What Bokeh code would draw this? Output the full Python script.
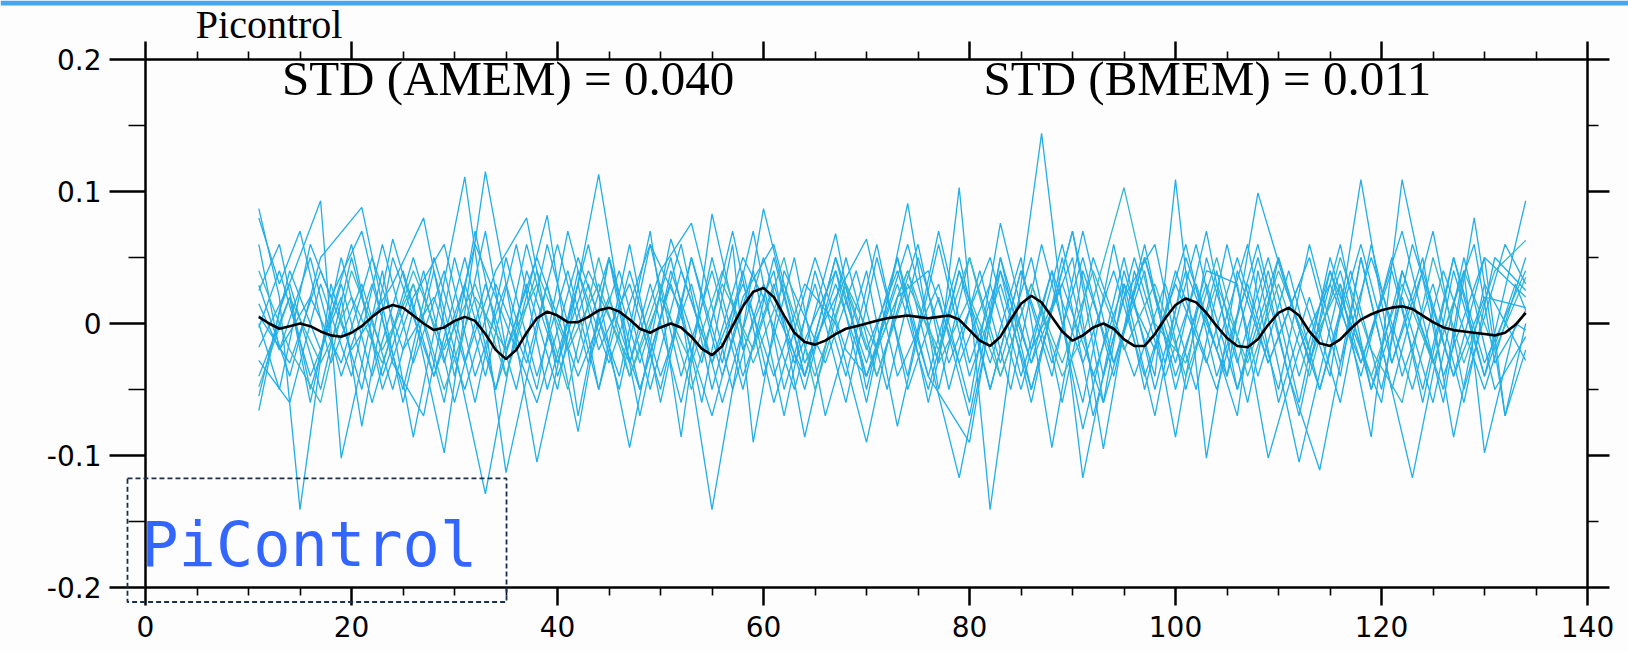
from bokeh.plotting import figure
from bokeh.models import Range1d, LinearAxis, FixedTicker, Label, PolyAnnotation, BoxAnnotation
from bokeh.embed import file_html
from bokeh.resources import INLINE

# ---------------- data ----------------
title_text = "Picontrol"
std_amem_text = "STD (AMEM) = 0.040"
std_bmem_text = "STD (BMEM) = 0.011"
box_text = "PiControl"

x_ticks = [0, 20, 40, 60, 80, 100, 120, 140]
x_minor = [5, 10, 15, 25, 30, 35, 45, 50, 55, 65, 70, 75, 85, 90, 95,
           105, 110, 115, 125, 130, 135]
y_ticks = [-0.2, -0.1, 0, 0.1, 0.2]
y_tick_labels = ["-0.2", "-0.1", "0", "0.1", "0.2"]
y_minor = [-0.15, -0.05, 0.05, 0.15]

years = list(range(11, 135))

# ensemble mean (black line), one value per year 11..134
bmem = [
    .005, .000, -.004, -.002, .000, -.002, -.006, -.009, -.010, -.007,
    -.002, .005, .011, .014, .012, .006, .000, -.005, -.003, .002,
    .005, .002, -.008, -.020, -.027, -.020, -.007, .004, .009, .006,
    .001, .001, .005, .010, .012, .009, .003, -.004, -.007, -.003,
    .000, -.003, -.010, -.019, -.024, -.017, -.002, .013, .024, .027,
    .020, .006, -.007, -.014, -.016, -.013, -.008, -.004, -.002, .000,
    .002, .004, .005, .006, .005, .004, .005, .006, .003, -.005,
    -.013, -.017, -.010, .003, .015, .021, .016, .005, -.006, -.013,
    -.009, -.003, .000, -.004, -.012, -.017, -.017, -.008, .004, .014,
    .019, .016, .008, -.002, -.011, -.017, -.018, -.012, -.001, .008,
    .012, .006, -.006, -.015, -.017, -.012, -.004, .003, .007, .010,
    .012, .013, .011, .006, .001, -.003, -.005, -.006, -.007, -.008,
    -.009, -.007, -.001, .008,
]

# ensemble members (cyan lines): (year, value) vertices
member01 = [(11, .087), (13, .02), (15, -.141), (18, .03), (21, -.05), (24, .064), (26, .01), (29, -.098),
            (33, .115), (35, .03), (38, -.105), (42, .04), (45, -.03), (49, .06), (52, .01), (55, -.141),
            (60, .087), (64, -.04), (67, .03), (70, -.04), (74, .04), (79, -.117), (83, .04), (86, -.03),
            (90, .05), (93, -.095), (96, .04), (99, -.04), (102, .03), (106, -.07), (108, .04), (112, -.105),
            (116, .03), (119, -.086), (122, .109), (126, -.04), (130, .05), (134, .02)]
member02 = [(11, -.066), (13, .01), (17, .093), (19, -.102), (23, .04), (26, -.086), (31, .111), (35, -.113),
            (39, .03), (42, -.082), (45, .05), (48, -.05), (52, .06), (55, -.05), (58, .04), (61, -.06),
            (65, .05), (68, -.02), (70, -.04), (74, .06), (77, -.03), (79, .103), (82, -.141), (87, .144),
            (91, -.117), (95, .04), (98, -.04), (100, .109), (103, -.102), (106, .04), (109, -.03), (113, .05),
            (116, -.04), (118, .05), (123, -.117), (127, .04), (130, -.04), (134, .093)]
member03 = [(11, .029), (14, -.04), (17, .05), (21, .088), (25, -.06), (28, .04), (30, -.02), (33, -.129),
            (37, .04), (40, -.03), (43, .06), (47, -.094), (51, .064), (55, -.03), (58, .05), (60, .02),
            (63, -.05), (67, .068), (70, -.05), (73, .05), (76, -.04), (80, -.09), (83, .05), (86, -.05),
            (90, .07), (93, -.06), (97, .05), (100, -.03), (103, .07), (106, -.05), (109, .04), (112, -.06),
            (115, .05), (118, -.03), (122, .07), (126, -.06), (129, .08), (132, -.07), (134, -.02)]
member04 = [(11, .025), (13, .06), (16, -.05), (19, .03), (22, -.06), (26, .05), (29, -.03), (32, .06),
            (35, .0), (38, -.06), (42, .05), (46, -.04), (49, .07), (52, -.086), (55, .083), (58, -.02),
            (61, .04), (64, -.086), (68, .05), (71, -.04), (75, .06), (78, -.05), (81, .04), (84, -.05),
            (87, .06), (91, -.06), (94, .06), (97, -.05), (100, .04), (104, -.05), (108, .06), (111, -.04),
            (114, -.111), (118, .05), (121, -.05), (125, .07), (128, -.05), (132, .06), (134, .03)]
member05 = [(11, .006), (14, -.03), (17, .04), (20, -.02), (24, .03), (27, .08), (30, -.04), (33, .07),
            (35, -.02), (38, .05), (42, -.04), (45, .02), (48, -.05), (51, .03), (55, -.07), (58, .02),
            (61, .06), (64, -.03), (67, .02), (70, .064), (73, -.04), (77, .03), (80, -.06), (83, .076),
            (86, -.02), (89, .03), (93, -.06), (95, .03), (98, -.02), (101, .06), (104, -.04), (107, .03),
            (110, -.05), (113, .06), (116, -.03), (119, .05), (123, -.05), (126, .04), (130, -.05), (134, .05)]
member06 = [(11, -.003), (13, .04), (16, -.04), (19, .02), (21, -.078), (24, .05), (28, -.04), (31, .03),
            (34, -.05), (37, .06), (40, -.03), (43, .04), (47, -.03), (50, .04), (53, .076), (57, -.05),
            (60, .03), (64, -.04), (67, .05), (70, -.02), (73, .04), (76, -.04), (79, .05), (82, -.05),
            (85, .04), (88, -.04), (91, .07), (94, -.03), (97, .04), (100, -.086), (103, .05), (106, -.03),
            (109, .05), (112, -.04), (115, .04), (120, -.06), (122, .04), (125, -.03), (129, .06), (131, -.03),
            (134, .01)]
member07 = [(11, -.018), (14, .03), (17, -.05), (20, .05), (23, -.04), (26, .03), (29, -.06), (32, .07),
            (35, -.04), (39, .082), (42, -.07), (45, .05), (48, -.03), (51, .05), (54, -.06), (57, .06),
            (59, -.09), (62, .04), (66, -.03), (69, .04), (72, -.05), (75, .05), (78, -.03), (82, .05),
            (85, -.04), (88, .04), (91, -.08), (95, .05), (98, -.05), (101, .04), (105, -.04), (108, .05),
            (112, -.07), (115, .04), (118, -.04), (121, .05), (124, -.06), (127, .05), (130, -.04), (133, .03),
            (134, .01)]
member08 = [(11, -.028), (14, -.06), (17, .03), (20, -.04), (23, .06), (26, -.03), (29, .04), (32, -.06),
            (35, .05), (38, -.04), (41, .04), (44, -.05), (47, .04), (50, -.04), (53, .03), (56, -.06),
            (60, .05), (63, -.03), (67, .04), (70, -.06), (74, .091), (77, -.05), (80, .05), (83, -.03),
            (86, .05), (89, -.06), (92, .05), (96, -.04), (99, .03), (102, -.05), (105, .06), (108, -.04),
            (111, .04), (114, -.05), (118, .06), (121, -.03), (124, .05), (127, -.086), (130, .03), (134, -.028)]
member09 = [(11, -.048), (14, .02), (17, -.03), (20, .02), (23, -.03), (26, .04), (29, -.02), (32, .03),
            (35, -.04), (38, .04), (41, -.02), (44, .03), (47, -.04), (50, .02), (53, -.03), (56, .04),
            (59, -.03), (62, .03), (65, -.04), (68, .03), (71, -.02), (74, .04), (77, -.03), (80, .02),
            (83, -.04), (86, .03), (89, -.03), (92, .04), (95, -.02), (98, .03), (101, -.04), (104, .03),
            (107, -.03), (110, .04), (113, -.02), (116, .03), (119, -.04), (122, .03), (125, -.03), (128, .04),
            (131, -.02), (134, .035)]
member10 = [(11, .06), (13, -.02), (16, .05), (19, -.04), (22, .03), (25, -.05), (28, .05), (31, -.03),
            (34, .04), (37, .08), (40, -.04), (43, .03), (46, -.05), (49, .06), (52, -.04), (55, .04),
            (58, -.05), (61, .05), (64, -.04), (67, .05), (70, -.04), (73, .03), (76, -.05), (79, .04),
            (82, -.03), (85, .05), (88, -.094), (91, .04), (94, -.03), (97, .05), (100, -.04), (103, .03),
            (106, -.05), (110, .05), (113, -.03), (116, .04), (119, -.05), (122, .04), (126, -.05), (128, .04),
            (130, -.098), (133, .0), (134, -.005)]
member11 = [(11, .04), (14, -.02), (17, -.06), (20, .04), (23, -.02), (26, .03), (29, -.05), (32, .02),
            (35, -.02), (38, .03), (41, -.05), (44, .05), (47, -.04), (50, .03), (53, -.05), (56, .03),
            (59, -.02), (62, .05), (65, -.05), (68, .03), (71, -.04), (74, .03), (77, -.02), (80, .05),
            (83, -.04), (86, .03), (89, -.04), (91, -.01), (95, .103), (98, .0), (101, -.03), (104, .05),
            (107, -.04), (110, .03), (113, -.04), (116, .05), (119, -.02), (122, -.06), (125, .05), (128, -.03),
            (131, .04), (134, .063)]
member12 = [(11, .015), (13, -.02), (16, .02), (19, -.03), (22, .05), (25, -.02), (28, .02), (31, -.05),
            (34, .03), (37, -.03), (40, .06), (43, -.03), (46, .04), (49, -.05), (52, .04), (55, -.03),
            (58, .03), (61, -.04), (64, .03), (67, .0), (70, -.09), (73, .02), (76, .04), (79, -.03),
            (82, .03), (85, -.05), (88, .04), (91, -.03), (94, .04), (97, -.04), (100, .03), (103, -.03),
            (106, .05), (109, -.03), (112, .03), (115, -.04), (118, .109), (121, -.03), (124, .04), (127, -.04),
            (130, .02), (134, .012)]
member13 = [(11, .08), (13, .03), (15, .07), (18, -.03), (21, .03), (24, -.05), (27, .04), (30, -.06),
            (33, .03), (36, -.05), (39, .06), (42, -.03), (45, .05), (48, -.07), (51, .04), (54, -.03),
            (57, .07), (60, -.04), (63, .05), (66, -.07), (70, .04), (73, -.078), (77, .06), (80, -.04),
            (83, .03), (86, -.05), (90, .07), (93, -.04), (96, .05), (99, -.03), (102, .06), (105, -.04),
            (108, .099), (111, .02), (114, -.05), (117, .04), (120, -.05), (123, .06), (127, -.04), (130, .05),
            (132, -.07), (134, .0)]
member14 = [(11, -.04), (14, .02), (16, -.06), (19, .05), (22, -.04), (25, .04), (28, -.04), (31, .05),
            (34, -.05), (37, .03), (40, -.05), (44, .113), (47, -.03), (49, .03), (52, -.06), (55, .05),
            (58, -.04), (61, .03), (64, -.05), (67, .04), (70, -.03), (73, .05), (76, -.06), (79, .04),
            (82, -.05), (85, .04), (88, -.03), (91, .05), (94, -.04), (97, .06), (100, -.05), (103, .04),
            (106, .03), (109, -.102), (112, -.02), (115, .03), (118, -.03), (121, .04), (124, -.05), (127, .05),
            (130, -.03), (134, .04)]
member15 = [(11, .0), (13, -.05), (16, .06), (18, .02), (21, .07), (24, -.03), (27, -.07), (30, .05),
            (33, -.04), (36, .06), (39, -.05), (42, .03), (44, -.05), (47, .06), (50, -.06), (53, .05),
            (56, -.03), (59, .07), (62, -.05), (65, .03), (68, -.06), (71, .05), (74, -.04), (77, .07),
            (80, -.03), (83, .04), (86, -.06), (89, .05), (92, -.07), (95, .02), (98, .06), (101, -.05),
            (104, .04), (107, -.06), (110, .05), (113, -.03), (116, .06), (119, -.05), (122, .02), (125, -.06),
            (128, .05), (131, -.05), (134, -.01)]
member16 = [(11, -.055), (14, .04), (17, -.02), (20, .06), (23, -.05), (26, .02), (29, .06), (32, -.04),
            (35, .03), (38, -.05), (41, .07), (44, -.02), (47, .03), (50, -.05), (53, .05), (56, -.04),
            (59, .04), (62, -.07), (65, .04), (68, -.04), (71, .06), (74, -.05), (77, .02), (80, -.07),
            (83, .05), (86, -.03), (89, .06), (92, -.04), (95, .03), (98, -.07), (101, .05), (104, -.02),
            (107, .06), (110, -.06), (113, .02), (116, -.06), (119, .06), (122, -.04), (125, .03), (128, -.06),
            (131, .05), (134, .025)]

members = [member01, member02, member03, member04, member05, member06, member07, member08,
           member09, member10, member11, member12, member13, member14, member15, member16]
teal_members = {8, 10}

# ---------------- layout / styles ----------------
W, H = 1628, 652
X0, X1 = 0, 140          # axes box in data units
Y0, Y1 = -0.2, 0.2
BOX_L, BOX_R, BOX_T, BOX_B = 145, 1587, 59, 587   # axes box in pixels
sx = (BOX_R - BOX_L) / (X1 - X0)
sy = (BOX_B - BOX_T) / (Y1 - Y0)
xr = Range1d(X0 - BOX_L / sx, X1 + (W - BOX_R) / sx)
yr = Range1d(Y0 - (H - BOX_B) / sy, Y1 + BOX_T / sy)

CYAN = "#22AEE8"
TEAL = "#38B9C6"
BG = "#fdfdfd"
TICK_FONT = "DejaVu Sans"

p = figure(width=W, height=H, x_range=xr, y_range=yr,
           output_backend="svg", toolbar_location=None,
           x_axis_location=None, y_axis_location=None,
           min_border=0, min_border_left=0, min_border_right=0,
           min_border_top=0, min_border_bottom=0)
p.background_fill_color = BG
p.border_fill_color = BG
p.outline_line_color = None
p.grid.visible = False

# thin blue band along the top edge of the page
p.add_layout(BoxAnnotation(bottom=yr.end - 5 / sy, fill_color="#4aa6ea", fill_alpha=1,
                           line_color=None))

for i, m in enumerate(members):
    p.line([v[0] for v in m], [v[1] for v in m],
           line_color=TEAL if i in teal_members else CYAN, line_width=1.3)

p.line(years, bmem, line_color="black", line_width=2.6)


def make_axis(loc, bounds, ticks, minor, major_out, minor_out, line=True, labels=None):
    ax = LinearAxis(fixed_location=loc, bounds=bounds,
                    ticker=FixedTicker(ticks=ticks, minor_ticks=minor))
    ax.axis_line_width = 2.5
    ax.axis_line_color = "black" if line else None
    ax.major_tick_in = 0
    ax.minor_tick_in = 0
    ax.major_tick_out = major_out
    ax.minor_tick_out = minor_out
    ax.major_tick_line_width = 2.5
    ax.major_tick_line_color = "black"
    ax.minor_tick_line_color = "black"
    ax.major_label_text_font = TICK_FONT
    ax.major_label_text_font_size = "28px"
    ax.major_label_text_color = "black"
    if labels is not None:
        ax.major_label_overrides = labels
    return ax


# bottom axis (with labels)
bottom = make_axis(Y0, (X0, X1), x_ticks, x_minor, 18, 8)
bottom.minor_tick_line_width = 1.6
bottom.major_label_standoff = 10
p.add_layout(bottom, "below")

# left axis (with labels)
left = make_axis(X0, (Y0, Y1), y_ticks, y_minor, 36, 17,
                 labels={t: s for t, s in zip(y_ticks, y_tick_labels)})
left.minor_tick_line_width = 1.6
left.major_label_standoff = 8
p.add_layout(left, "left")

# top axis: major and minor tick marks only
top_major = make_axis(Y1, (X0, X1), [], x_ticks, 0, 18)
top_major.minor_tick_line_width = 2.5
p.add_layout(top_major, "above")
top_minor = make_axis(Y1, (X0, X1), [], x_minor, 0, 8, line=False)
top_minor.minor_tick_line_width = 1.6
p.add_layout(top_minor, "above")

# right axis: major and minor tick marks only
right_major = make_axis(X1, (Y0, Y1), [], y_ticks, 0, 22)
right_major.minor_tick_line_width = 2.5
p.add_layout(right_major, "right")
right_minor = make_axis(X1, (Y0, Y1), [], y_minor, 0, 11, line=False)
right_minor.minor_tick_line_width = 1.6
p.add_layout(right_minor, "right")

# texts
p.add_layout(Label(x=12, y=Y1 + 35 / sy, text=title_text,
                   text_align="center", text_baseline="alphabetic",
                   text_font="Liberation Serif", text_font_size="40px",
                   text_color="black"))
p.add_layout(Label(x=35.2, y=0.1853, text=std_amem_text,
                   text_align="center", text_baseline="alphabetic",
                   text_font="Liberation Serif", text_font_size="49px",
                   text_color="black"))
p.add_layout(Label(x=103.1, y=0.1853, text=std_bmem_text,
                   text_align="center", text_baseline="alphabetic",
                   text_font="Liberation Serif", text_font_size="49px",
                   text_color="black"))

p.add_layout(PolyAnnotation(xs=[-1.75, 35.05, 35.05, -1.75],
                            ys=[-0.1174, -0.1174, -0.211, -0.211],
                            fill_alpha=0, line_color="#17304f", line_alpha=1,
                            line_dash="5 3", line_width=1.8))
p.add_layout(Label(x=15.9, y=-0.1675, text=box_text,
                   text_align="center", text_baseline="alphabetic",
                   text_font="DejaVu Sans Mono", text_font_size="62px",
                   text_color="#3366FF"))

open("out.html", "w").write(file_html(p, INLINE))
